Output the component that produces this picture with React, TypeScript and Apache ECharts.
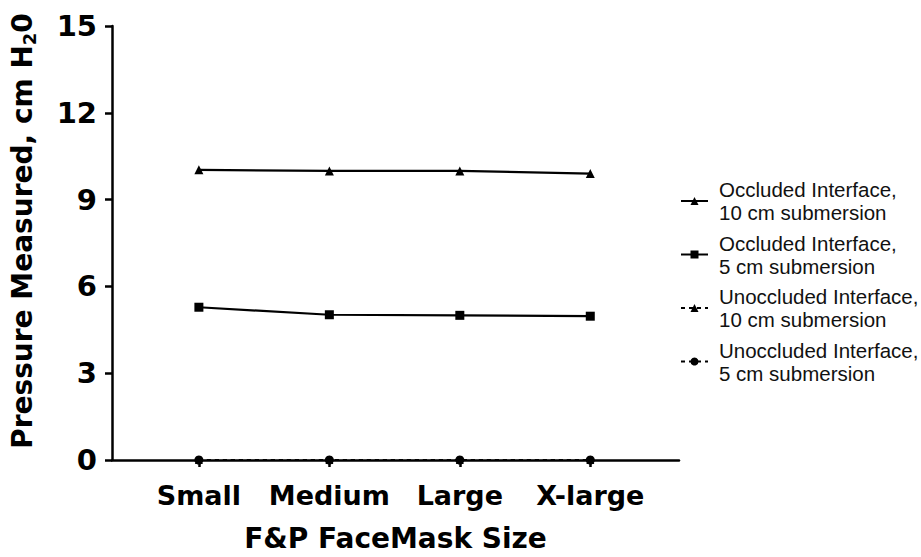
import React, { useEffect, useRef } from "react";
import * as echarts from "echarts";

const categories = ["Small", "Medium", "Large", "X-large"];
const occluded10 = [10.03, 9.99, 9.99, 9.9];
const occluded5 = [5.28, 5.02, 5.0, 4.97];
const unoccluded10 = [0.0, 0.0, 0.0, 0.0];
const unoccluded5 = [0.0, 0.0, 0.0, 0.0];
const yTicks = [0, 3, 6, 9, 12, 15];

const BOLD = "DejaVu Sans, Liberation Sans, Arial, sans-serif";
const REG = "Liberation Sans, Arial, sans-serif";

export default function App() {
  const ref = useRef<HTMLDivElement>(null);
  useEffect(() => {
    if (!ref.current) return;
    const chart = echarts.init(ref.current, null, { renderer: "svg" });
    const pts = (arr: number[]) => arr.map((v, i) => [i, v]);
    const base = {
      type: "line",
      color: "#000",
      showSymbol: true,
      z: 3,
    };
    chart.setOption({
      animation: false,
      backgroundColor: "#fff",
      textStyle: { fontFamily: REG },
      grid: { left: 111, right: 242, top: 26, bottom: 96, containLabel: false },
      legend: {
        orient: "vertical",
        left: 675,
        top: 173,
        itemWidth: 27,
        itemHeight: 10,
        itemGap: 7.5,
        textStyle: { fontSize: 20.5, lineHeight: 23, color: "#111", fontFamily: REG, padding: [0, 0, 0, 6] },
        data: [
          "Occluded Interface,\n10 cm submersion",
          "Occluded Interface,\n5 cm submersion",
          "Unoccluded Interface,\n10 cm submersion",
          "Unoccluded Interface,\n5 cm submersion",
        ],
      },
      xAxis: {
        type: "value",
        min: -0.666,
        max: 3.68,
        name: "F&P FaceMask Size",
        nameLocation: "middle",
        nameGap: 64,
        nameTextStyle: { fontSize: 28, fontWeight: "bold", color: "#000", fontFamily: BOLD },
        splitLine: { show: false },
        axisLine: { show: true, onZero: false, lineStyle: { color: "#000", width: 2.5 } },
        axisTick: { show: true, inside: false, length: 7, lineStyle: { color: "#000", width: 2.5 }, customValues: [0, 1, 2, 3] },
        axisLabel: {
          customValues: [0, 1, 2, 3],
          margin: 22,
          fontSize: 27,
          fontWeight: "bold",
          color: "#000",
          fontFamily: BOLD,
          formatter: (v: number) => categories[Math.round(v)] ?? "",
        },
      },
      yAxis: {
        type: "value",
        min: 0,
        max: 15,
        interval: 3,
        name: "{a|Pressure Measured, cm H}{s|2}{a|0}",
        nameLocation: "middle",
        nameGap: 74,
        nameRotate: 90,
        nameTextStyle: {
          padding: [0, 0, 0, 24],
          rich: {
            a: { fontSize: 28, fontWeight: "bold", color: "#000", fontFamily: BOLD },
            s: { fontSize: 18, fontWeight: "bold", color: "#000", fontFamily: BOLD, verticalAlign: "bottom", padding: [14, 0, 0, 0] },
          },
        },
        splitLine: { show: false },
        axisLine: { show: true, onZero: false, lineStyle: { color: "#000", width: 2.5 } },
        axisTick: { show: true, inside: false, length: 7, lineStyle: { color: "#000", width: 2.5 } },
        axisLabel: {
          margin: 15,
          fontSize: 29,
          fontWeight: "bold",
          color: "#000",
          fontFamily: BOLD,
          customValues: yTicks,
        },
      },
      series: [
        {
          ...base,
          name: "Occluded Interface,\n10 cm submersion",
          data: pts(occluded10),
          symbol: "triangle",
          symbolSize: 9,
          lineStyle: { color: "#000", width: 2.2 },
          itemStyle: { color: "#000" },
        },
        {
          ...base,
          name: "Occluded Interface,\n5 cm submersion",
          data: pts(occluded5),
          symbol: "rect",
          symbolSize: 9,
          lineStyle: { color: "#000", width: 2.2 },
          itemStyle: { color: "#000" },
        },
        {
          ...base,
          name: "Unoccluded Interface,\n10 cm submersion",
          data: pts(unoccluded10),
          symbol: "triangle",
          symbolSize: 8,
          lineStyle: { color: "#000", width: 2, type: [4, 4] },
          itemStyle: { color: "#000" },
        },
        {
          ...base,
          name: "Unoccluded Interface,\n5 cm submersion",
          data: pts(unoccluded5),
          symbol: "circle",
          symbolSize: 9,
          lineStyle: { color: "#000", width: 2, type: [4, 4] },
          itemStyle: { color: "#000" },
        },
      ],
    });
    return () => chart.dispose();
  }, []);
  return <div ref={ref} style={{ width: 921, height: 557, position: "absolute", left: 0, top: 0 }} />;
}
